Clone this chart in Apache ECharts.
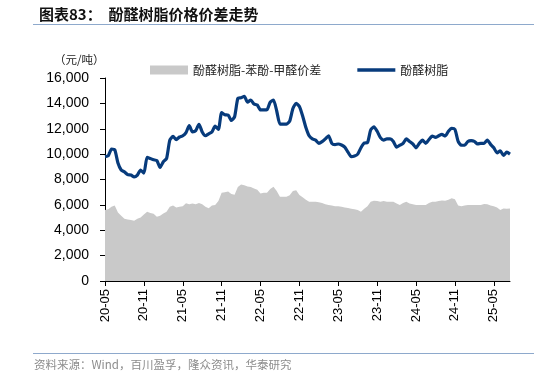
<!DOCTYPE html>
<html>
<head>
<meta charset="utf-8">
<script src="https://cdn.jsdelivr.net/npm/echarts@6/dist/echarts.min.js"></script>
<style>
  html, body { margin: 0; padding: 0; background: #fff; }
  #chart { width: 534px; height: 378px; }
</style>
</head>
<body>
<div id="chart"></div>
<script>
// semi-monthly points starting 2020-05
const START_YEAR = 2020
const START_MONTH = 5
const tickLabels = ['20-05', '20-11', '21-05', '21-11', '22-05', '22-11', '23-05', '23-11', '24-05', '24-11', '25-05']

const resinPrice = [
  9800, 9870, 10400, 10350, 9300, 8750, 8600, 8380, 8350, 8200,
  8350, 8750, 8500, 9750, 9650, 9550, 9500, 8950, 9400, 9650,
  11100, 11400, 11150, 11350, 11450, 11700, 12250, 11760, 11850, 12350,
  11750, 11450, 11600, 11750, 12200, 11950, 13270, 13100, 13080, 12650,
  12950, 14400, 14450, 14550, 14100, 14260, 13950, 13870, 13480, 13480,
  13500, 14100, 14260, 13400, 12370, 12370, 12370, 12600, 13600, 14000,
  13750, 13000, 12100, 11450, 11200, 11100, 10850, 10980, 11200, 11450,
  10850, 10750, 10800, 10720, 10550, 10150, 9800, 9850, 10000, 10500,
  10870, 10900, 11900, 12150, 11800, 11300, 11110, 11200, 11200, 11000,
  10550, 10700, 10850, 11200, 11000, 10800, 10500, 10850, 11100, 10850,
  11150, 11430, 11320, 11450, 11550, 11430, 11800, 12030, 11950, 11000,
  10700, 10700, 11000, 11060, 11000, 10800, 10850, 10850, 11100, 10770,
  10500, 10100, 10250, 9900, 10150, 10000
]

const spread = [
  5600, 5650, 5850, 5950, 5400, 5150, 4900, 4850, 4800, 4750,
  4900, 5000, 5250, 5450, 5350, 5300, 5070, 5150, 5330, 5460,
  5850, 5950, 5800, 5850, 5900, 6120, 6050, 6100, 6050, 6150,
  6050, 5850, 5730, 5950, 6000, 6300, 6950, 7000, 7050, 6850,
  6800, 7400, 7600, 7550, 7450, 7400, 7300, 7200, 6900, 6950,
  6960, 7250, 7430, 7100, 6640, 6640, 6640, 6750, 7100, 7150,
  6780, 6600, 6400, 6250, 6250, 6250, 6200, 6150, 6050, 5990,
  5950, 5900, 5900, 5850, 5800, 5750, 5700, 5650, 5600, 5450,
  5700, 5900, 6250, 6330, 6300, 6250, 6300, 6250, 6250, 6250,
  6100, 6000, 6150, 6250, 6100, 6050, 5990, 6000, 6000, 5990,
  6150, 6250, 6250, 6300, 6350, 6330, 6400, 6520, 6450, 5950,
  5900, 5950, 5990, 5990, 5990, 5990, 6000, 6070, 6050, 5950,
  5900, 5800, 5600, 5720, 5700, 5720
]

const dates = resinPrice.map((_, i) => {
  const m = START_MONTH - 1 + Math.floor(i / 2)
  const y = START_YEAR + Math.floor(m / 12)
  const mm = (m % 12) + 1
  return `${String(y).slice(2)}-${String(mm).padStart(2, '0')}${i % 2 ? 'b' : ''}`
})

const chart = echarts.init(document.getElementById('chart'))

const cjk = '"Noto Sans CJK SC", sans-serif'
const latin = '"Liberation Sans", Arial, sans-serif'

chart.setOption({
  animation: false,
  title: {
    text: '图表83：  酚醛树脂价格价差走势',
    left: 34,
    top: 2,
    textStyle: { fontFamily: cjk, fontSize: 15, fontWeight: 'bold', color: '#111' },
  },
  graphic: [
    { type: 'line', shape: { x1: 33, y1: 24.5, x2: 534, y2: 24.5 }, style: { stroke: '#8ea9cc', lineWidth: 1 } },
    { type: 'line', shape: { x1: 33, y1: 353.5, x2: 534, y2: 353.5 }, style: { stroke: '#8ea9cc', lineWidth: 1 } },
    {
      type: 'text', left: 34, top: 359,
      style: { text: '资料来源：Wind，百川盈孚，隆众资讯，华泰研究', fontFamily: cjk, fontSize: 11.5, fill: '#8c8c8c' },
    },
    {
      type: 'text', left: 54, top: 54,
      style: { text: '（元/吨）', fontFamily: cjk, fontSize: 11.5, fill: '#222' },
    },
  ],
  legend: {
    top: 59,
    left: 145,
    itemGap: 36,
    itemWidth: 38,
    itemHeight: 9,
    textStyle: { fontFamily: cjk, fontSize: 12, color: '#222' },
    data: [
      { name: '酚醛树脂-苯酚-甲醛价差', icon: 'rect' },
      { name: '酚醛树脂', icon: 'path://M0,0 L40,0 L40,3.5 L0,3.5 Z' },
    ],
  },
  grid: { left: 105, right: 24, top: 78, bottom: 97, containLabel: false },
  xAxis: {
    type: 'category',
    data: dates,
    boundaryGap: false,
    axisLine: { lineStyle: { color: '#000', width: 1 } },
    axisTick: {
      interval: (i) => i % 12 === 0,
      length: 5,
      lineStyle: { color: '#000' },
    },
    axisLabel: {
      interval: (i) => i % 12 === 0,
      formatter: (v, i) => tickLabels[i / 12] ?? '',
      rotate: 90,
      fontFamily: latin,
      fontSize: 13,
      color: '#000',
      margin: 8,
    },
  },
  yAxis: {
    type: 'value',
    min: 0,
    max: 16000,
    interval: 2000,
    axisLine: { show: true, lineStyle: { color: '#000', width: 1 } },
    axisTick: { show: true, length: 5, lineStyle: { color: '#000' } },
    splitLine: { show: false },
    axisLabel: {
      formatter: (v) => v.toLocaleString('en-US'),
      fontFamily: latin,
      fontSize: 14,
      color: '#000',
      margin: 16,
    },
  },
  series: [
    {
      name: '酚醛树脂-苯酚-甲醛价差',
      type: 'line',
      data: spread,
      symbol: 'none',
      lineStyle: { width: 0 },
      itemStyle: { color: '#c9c9c9' },
      areaStyle: { color: '#c9c9c9', opacity: 1 },
      z: 1,
    },
    {
      name: '酚醛树脂',
      type: 'line',
      data: resinPrice,
      symbol: 'none',
      smooth: 0.2,
      itemStyle: { color: '#073b7c' },
      lineStyle: { color: '#073b7c', width: 3.2 },
      z: 3,
    },
  ],
})
</script>
</body>
</html>
